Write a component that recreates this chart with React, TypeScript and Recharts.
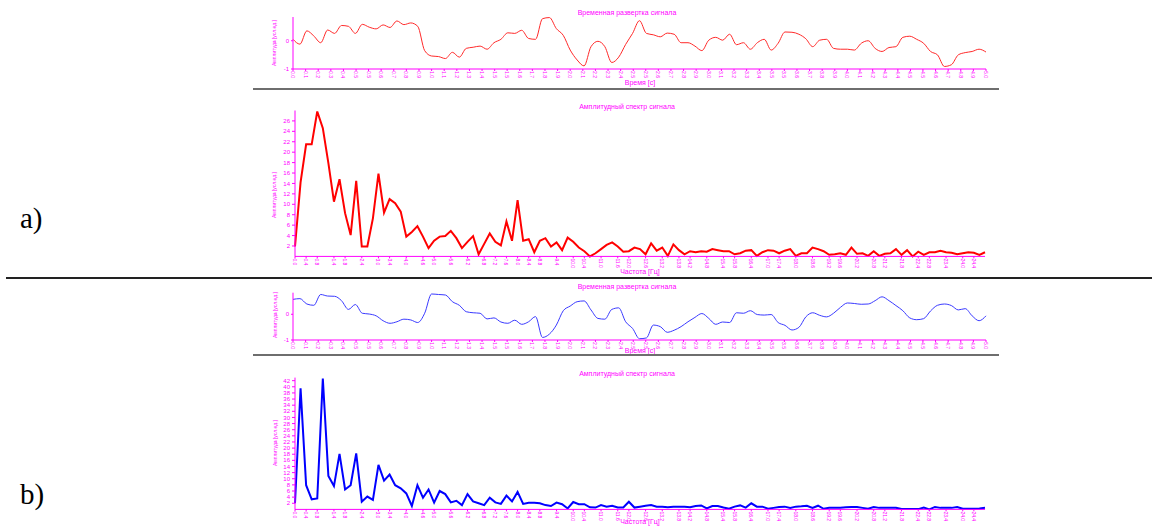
import React from "react";
import { LineChart, Line, XAxis, YAxis } from "recharts";

const MAGENTA = "#ff00ff";

// signal samples, step 0.05 s, 0 … 5 s
const signalA = [
  0.05, -0.12, 0.35, 0.17, -0.07, 0.38, 0.26, 0.54, 0.51, 0.26,
  0.58, 0.48, 0.42, 0.56, 0.47, 0.7, 0.57, 0.63, 0.51, -0.35,
  -0.54, -0.56, -0.63, -0.41, -0.58, -0.27, -0.23, -0.19, -0.3, -0.07,
  0.05, 0.28, 0.26, 0.37, 0.08, 0.05, 0.78, 0.82, 0.43, 0.19,
  -0.33, -0.68, -0.89, -0.21, -0.02, -0.21, -0.77, -0.58, -0.13, 0.26,
  0.71, 0.26, 0.21, 0.14, 0.27, 0.23, -0.07, -0.07, -0.19, -0.35,
  0.02, 0.12, 0.02, 0.23, -0.14, -0.07, -0.3, -0.07, 0.05, -0.33,
  -0.09, 0.31, 0.3, 0.23, 0.07, -0.21, 0.02, 0.05, -0.27, -0.3,
  -0.3, -0.33, -0.09, 0.0, -0.27, -0.38, -0.24, -0.21, 0.12, 0.16,
  0.05, -0.09, -0.38, -0.5, -0.91, -0.85, -0.5, -0.42, -0.38, -0.3,
  -0.4,
];

const signalB = [
  0.58, 0.61, 0.4, 0.35, 0.77, 0.71, 0.7, 0.53, 0.19, 0.38,
  0.04, 0.01, -0.06, -0.25, -0.35, -0.29, -0.19, -0.22, -0.32, 0.04,
  0.79, 0.77, 0.75, 0.49, 0.35, 0.1, 0.06, 0.04, -0.18, -0.14,
  -0.3, -0.35, -0.23, -0.39, -0.29, -0.09, -0.9, -0.77, -0.42, 0.14,
  0.32, 0.49, 0.52, 0.17, -0.16, -0.19, 0.19, 0.25, -0.29, -0.55,
  -0.95, -0.92, -0.42, -0.48, -0.7, -0.62, -0.48, -0.29, -0.12, 0.03,
  -0.16, -0.39, -0.3, -0.32, 0.06, 0.04, 0.14, -0.01, -0.03, -0.01,
  -0.32, -0.43, -0.61, -0.51, -0.1, 0.06, -0.04, -0.1, 0.04, 0.27,
  0.44, 0.42, 0.39, 0.4, 0.53, 0.68, 0.53, 0.34, 0.14, -0.14,
  -0.21, -0.17, 0.13, 0.35, 0.4, 0.34, 0.17, 0.22, -0.06, -0.25,
  -0.06,
];

// amplitude spectra, step 0.2 Hz, 0 … 24.8 Hz
const spectrumA = [
  1.9, 14.2, 21.5, 21.5, 27.8, 24.6, 17.9, 10.5, 14.8, 8.3,
  4.1, 14.5, 1.9, 1.9, 7.3, 15.9, 8.4, 11.0, 10.2, 8.6,
  3.8, 4.7, 5.8, 3.8, 1.6, 3.0, 3.8, 3.9, 4.9, 3.5,
  1.6, 2.8, 3.9, 0.4, 2.4, 4.4, 2.8, 2.1, 6.7, 3.0,
  10.8, 3.0, 3.3, 0.8, 3.0, 3.5, 1.9, 2.7, 1.2, 3.6,
  2.8, 1.7, 1.0, 0.0, 0.6, 1.4, 2.2, 2.7, 1.9, 0.9,
  1.0, 1.7, 1.4, 0.4, 2.5, 1.1, 1.7, 0.1, 2.3, 1.2,
  0.4, 1.0, 0.8, 1.0, 0.9, 1.4, 1.2, 1.0, 1.0, 0.4,
  0.6, 1.1, 1.2, 0.1, 0.8, 1.2, 1.1, 0.6, 1.1, 1.4,
  0.1, 0.6, 0.6, 1.7, 1.4, 1.0, 0.3, 0.4, 0.6, 0.3,
  1.7, 0.5, 0.6, 0.1, 1.0, 0.1, 0.5, 0.6, 1.4, 0.3,
  1.2, 0.0, 0.9, 0.3, 0.8, 0.8, 1.1, 0.8, 0.7, 0.4,
  0.6, 0.8, 0.7, 0.3, 0.8,
];

const spectrumB = [
  2.0, 39.5, 7.9, 3.3, 3.6, 42.7, 10.9, 7.6, 18.1, 6.5,
  7.9, 18.3, 2.5, 4.2, 3.1, 14.5, 9.4, 11.4, 7.9, 6.9,
  5.2, 1.1, 7.9, 3.8, 6.5, 2.2, 6.0, 5.0, 2.3, 2.8,
  1.4, 5.0, 2.6, 2.0, 1.4, 3.8, 2.3, 1.8, 4.5, 2.6,
  5.7, 1.8, 2.2, 2.2, 2.0, 1.4, 1.1, 2.2, 1.7, 0.3,
  2.4, 1.7, 1.7, 0.7, 0.6, 1.4, 0.9, 1.2, 0.6, 0.6,
  2.5, 0.6, 0.9, 1.2, 1.4, 0.9, 0.9, 0.7, 0.9, 0.9,
  0.9, 0.7, 1.1, 1.3, 0.3, 1.1, 1.1, 0.6, 0.2, 0.9,
  1.3, 0.6, 2.0, 0.9, 0.9, 0.2, 0.5, 0.8, 0.9, 0.5,
  0.9, 1.0, 1.2, 0.5, 1.2, 0.2, 0.5, 0.5, 0.5, 0.7,
  0.8, 0.8, 0.5, 0.2, 0.8, 0.5, 0.5, 0.5, 0.5, 0.1,
  0.1, 0.1, 0.1, 0.6, 0.0, 0.8, 0.5, 0.5, 0.5, 0.8,
  0.2, 0.2, 0.2, 0.3, 0.5,
];

const timeTicks = [
  0, 0.091, 0.182, 0.273, 0.364, 0.455, 0.545, 0.636, 0.727, 0.818,
  0.909, 1.0, 1.091, 1.182, 1.273, 1.364, 1.455, 1.545, 1.636, 1.727,
  1.818, 1.909, 2.0, 2.091, 2.182, 2.273, 2.364, 2.455, 2.545, 2.636,
  2.727, 2.818, 2.909, 3.0, 3.091, 3.182, 3.273, 3.364, 3.455, 3.545,
  3.636, 3.727, 3.818, 3.909, 4.0, 4.091, 4.182, 4.273, 4.364, 4.455,
  4.545, 4.636, 4.727, 4.818, 4.909, 5.0,
];

const freqTicks = [
  0, 0.4, 0.8, 1.4, 1.8, 2.4, 3.0, 3.4, 4.0, 4.6, 5.0, 5.6, 6.2, 6.8, 7.2, 7.6,
  8.0, 8.4, 8.8, 9.4, 10.0, 10.4, 11.0, 11.6, 12.0, 12.6, 13.2, 13.8, 14.2, 14.8,
  15.4, 15.8, 16.4, 17.0, 17.4, 18.0, 18.6, 19.2, 19.6, 20.2, 20.8, 21.2, 21.8,
  22.4, 22.8, 23.4, 24.0, 24.4,
];

const ampTicksA = [2, 4, 6, 8, 10, 12, 14, 16, 18, 20, 22, 24, 26];
const ampTicksB = [2, 4, 6, 8, 10, 12, 14, 16, 18, 20, 22, 24, 26, 28, 30, 32, 34, 36, 38, 40, 42];
const signalTicks = [-1, 0];

const minorTimeTicks = Array.from({ length: 276 }, (_, i) => +(i * (5 / 275)).toFixed(4));
const minorFreqTicks = Array.from({ length: 249 }, (_, i) => +(i * 0.1).toFixed(1));

const TITLE_TIME = "Временная развертка сигнала";
const TITLE_SPEC = "Амплитудный спектр сигнала";
const LABEL_TIME = "Время [с]";
const LABEL_FREQ = "Частота [Гц]";
const LABEL_AMP = "Амплитуда [усл.ед.]";

const timeRows = signalA.map((a, i) => ({ t: +(i * 0.05).toFixed(2), a, b: signalB[i] }));
const specRows = spectrumA.map((a, i) => ({ f: +(i * 0.2).toFixed(1), a, b: spectrumB[i] }));

const VTick = (props: any) => {
  const { x, y, payload } = props;
  return (
    <text
      x={x}
      y={y}
      transform={`rotate(90 ${x} ${y})`}
      textAnchor="start"
      dominantBaseline="central"
      fontSize={5}
      fill={MAGENTA}
      fontFamily="Liberation Sans, Arial, sans-serif"
    >
      {Number(payload.value).toFixed(1)}
    </text>
  );
};

const yTickStyle = { fontSize: 6, fill: MAGENTA, fontFamily: "Liberation Sans, Arial, sans-serif" };

const Caption = ({ x, y, size, children, rotate }: any) => (
  <div
    style={{
      position: "absolute",
      left: x,
      top: y,
      transform: `translate(-50%, -50%)${rotate ? " rotate(-90deg)" : ""}`,
      fontSize: size,
      lineHeight: 1,
      color: MAGENTA,
      whiteSpace: "nowrap",
      fontFamily: "Liberation Sans, Arial, sans-serif",
    }}
  >
    {children}
  </div>
);

// margins below are the plot box; the 1px axis sizes are taken off them
const TimePanel = ({ top, height, margin, dataKey, color }: any) => (
  <div style={{ position: "absolute", left: 250, top }}>
    <LineChart
      width={750}
      height={height}
      data={timeRows}
      margin={{ top: margin.top, right: margin.right, bottom: margin.bottom - 2, left: margin.left - 1 }}
    >
      <XAxis
        dataKey="t"
        type="number"
        domain={[0, 5]}
        ticks={timeTicks}
        interval={0}
        height={1}
        tickSize={2}
        tickMargin={0}
        stroke={MAGENTA}
        tick={<VTick />}
      />
      <XAxis
        xAxisId="minor"
        dataKey="t"
        type="number"
        domain={[0, 5]}
        ticks={minorTimeTicks}
        interval={0}
        height={1}
        tickSize={1}
        axisLine={false}
        stroke={MAGENTA}
        tick={false}
      />
      <YAxis
        type="number"
        domain={[-1, 0.84]}
        ticks={signalTicks}
        interval={0}
        width={1}
        tickSize={2}
        tickMargin={2}
        stroke={MAGENTA}
        tick={yTickStyle}
      />
      <Line
        type="monotone"
        dataKey={dataKey}
        stroke={color}
        strokeWidth={1}
        dot={false}
        isAnimationActive={false}
      />
    </LineChart>
  </div>
);

const SpectrumPanel = ({ top, height, margin, dataKey, color, yMax, yTicks }: any) => (
  <div style={{ position: "absolute", left: 250, top }}>
    <LineChart
      width={750}
      height={height}
      data={specRows}
      margin={{ top: margin.top, right: margin.right, bottom: margin.bottom - 2, left: margin.left - 1 }}
    >
      <XAxis
        dataKey="f"
        type="number"
        domain={[0, 24.8]}
        ticks={freqTicks}
        interval={0}
        height={1}
        tickSize={2}
        tickMargin={0}
        stroke={MAGENTA}
        tick={<VTick />}
      />
      <XAxis
        xAxisId="minor"
        dataKey="f"
        type="number"
        domain={[0, 24.8]}
        ticks={minorFreqTicks}
        interval={0}
        height={1}
        tickSize={1}
        axisLine={false}
        stroke={MAGENTA}
        tick={false}
      />
      <YAxis
        type="number"
        domain={[0, yMax]}
        ticks={yTicks}
        interval={0}
        width={1}
        tickSize={3}
        tickMargin={2}
        stroke={MAGENTA}
        tick={yTickStyle}
      />
      <Line
        type="linear"
        dataKey={dataKey}
        stroke={color}
        strokeWidth={2}
        dot={false}
        isAnimationActive={false}
      />
    </LineChart>
  </div>
);

const Rule = ({ x, y, w, h, color }: any) => (
  <div style={{ position: "absolute", left: x, top: y, width: w, height: h, background: color }} />
);

const Letter = ({ y, children }: any) => (
  <div
    style={{
      position: "absolute",
      left: 20,
      top: y,
      fontFamily: "Liberation Serif, Times New Roman, serif",
      fontSize: 29,
      lineHeight: 1,
      color: "#000",
    }}
  >
    {children}
  </div>
);

export default function App() {
  return (
    <div style={{ position: "absolute", left: 0, top: 0, width: 1152, height: 526, background: "#fff", overflow: "hidden" }}>
      {/* a) */}
      <TimePanel top={0} height={90} margin={{ top: 17, right: 14, bottom: 21, left: 43 }} dataKey="a" color="#ff2a2a" />
      <Caption x={627} y={12} size={7}>{TITLE_TIME}</Caption>
      <Caption x={640} y={82} size={7}>{LABEL_TIME}</Caption>
      <Caption x={274} y={43} size={5} rotate>{LABEL_AMP}</Caption>
      <Rule x={253} y={88} w={746} h={2} color="#6e6e6e" />

      <SpectrumPanel
        top={95}
        height={185}
        margin={{ top: 15.5, right: 15, bottom: 23.6, left: 45 }}
        dataKey="a"
        color="#ff0000"
        yMax={28}
        yTicks={ampTicksA}
      />
      <Caption x={627} y={106} size={7}>{TITLE_SPEC}</Caption>
      <Caption x={640} y={271} size={7}>{LABEL_FREQ}</Caption>
      <Caption x={274} y={195} size={5} rotate>{LABEL_AMP}</Caption>
      <Letter y={204}>a)</Letter>

      <Rule x={6} y={277} w={1146} h={2} color="#222" />

      {/* b) */}
      <TimePanel top={280} height={74} margin={{ top: 12.7, right: 14, bottom: 14, left: 43 }} dataKey="b" color="#3a3aff" />
      <Caption x={627} y={286} size={7}>{TITLE_TIME}</Caption>
      <Caption x={640} y={350} size={7}>{LABEL_TIME}</Caption>
      <Caption x={275} y={315} size={5} rotate>{LABEL_AMP}</Caption>
      <Rule x={253} y={354} w={746} h={2} color="#6e6e6e" />

      <SpectrumPanel
        top={365}
        height={161}
        margin={{ top: 12.6, right: 15, bottom: 16.6, left: 45 }}
        dataKey="b"
        color="#0000ff"
        yMax={43}
        yTicks={ampTicksB}
      />
      <Caption x={627} y={373} size={7}>{TITLE_SPEC}</Caption>
      <Caption x={640} y={521} size={7}>{LABEL_FREQ}</Caption>
      <Caption x={275} y={443} size={5} rotate>{LABEL_AMP}</Caption>
      <Letter y={480}>b)</Letter>
    </div>
  );
}
